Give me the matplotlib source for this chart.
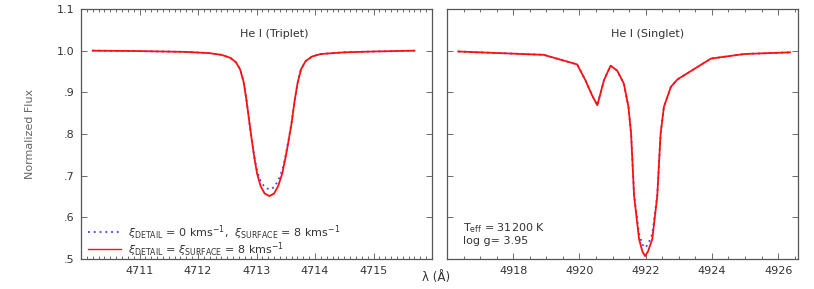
import matplotlib
matplotlib.use("Agg")
import matplotlib.pyplot as plt
from matplotlib.lines import Line2D
from matplotlib.ticker import MultipleLocator

# ---- data ----
trip_wl = [4710.2, 4711.0, 4711.8, 4712.2, 4712.4, 4712.55, 4712.65, 4712.72, 4712.78,
           4712.83, 4712.88, 4712.92, 4712.96, 4713.01, 4713.07, 4713.14, 4713.22,
           4713.30, 4713.37, 4713.44, 4713.50, 4713.55, 4713.60, 4713.65, 4713.70,
           4713.76, 4713.84, 4713.95, 4714.1, 4714.5, 4715.0, 4715.7]
trip_red = [1.000, 0.999, 0.997, 0.994, 0.990, 0.983, 0.972, 0.955, 0.925,
            0.880, 0.826, 0.785, 0.746, 0.705, 0.675, 0.657, 0.651,
            0.657, 0.675, 0.705, 0.746, 0.785, 0.826, 0.878, 0.921,
            0.955, 0.975, 0.986, 0.992, 0.996, 0.998, 1.000]
trip_blue = [1.000, 0.999, 0.997, 0.994, 0.990, 0.983, 0.972, 0.955, 0.925,
             0.880, 0.826, 0.786, 0.748, 0.711, 0.687, 0.672, 0.667,
             0.672, 0.688, 0.713, 0.750, 0.788, 0.828, 0.878, 0.921,
             0.955, 0.975, 0.986, 0.992, 0.996, 0.998, 1.000]

sing_wl = [4916.34, 4918.92, 4919.93, 4920.18, 4920.38, 4920.54, 4920.74, 4920.94,
           4921.14, 4921.34, 4921.48, 4921.56, 4921.65, 4921.8, 4921.9, 4921.98,
           4922.07, 4922.2, 4922.35, 4922.45, 4922.55, 4922.76, 4922.96, 4923.97,
           4924.98, 4926.36]
sing_red = [0.998, 0.990, 0.967, 0.929, 0.893, 0.869, 0.929, 0.964,
            0.952, 0.921, 0.865, 0.800, 0.651, 0.548, 0.518, 0.507,
            0.518, 0.548, 0.651, 0.800, 0.865, 0.913, 0.931, 0.981,
            0.992, 0.996]
sing_blue = [0.998, 0.990, 0.967, 0.929, 0.893, 0.869, 0.929, 0.964,
             0.952, 0.921, 0.865, 0.800, 0.655, 0.560, 0.535, 0.527,
             0.535, 0.560, 0.655, 0.800, 0.865, 0.913, 0.931, 0.981,
             0.992, 0.996]

yticks = [0.5, 0.6, 0.7, 0.8, 0.9, 1.0, 1.1]
ytick_labels = ['.5', '.6', '.7', '.8', '.9', '1.0', '1.1']
left_xticks = [4711, 4712, 4713, 4714, 4715]
right_xticks = [4918, 4920, 4922, 4924, 4926]

RED = '#ff1010'
BLUE = '#4040ff'
TXT = '#333333'
SP = '#555555'

plt.rcParams['font.family'] = ['DejaVu Sans']

fig = plt.figure(figsize=(8.14, 2.89), dpi=100)
axL = fig.add_axes([81/814, 30/289, 351/814, 250/289])
axR = fig.add_axes([447/814, 30/289, 351/814, 250/289])

for ax in (axL, axR):
    ax.set_ylim(0.5, 1.1)
    ax.set_yticks(yticks)
    for s in ax.spines.values():
        s.set_color(SP)
        s.set_linewidth(0.9)
    ax.tick_params(which='both', direction='in', top=True, right=True,
                   colors=SP, labelcolor=TXT, labelsize=8, width=0.6)
    ax.tick_params(which='major', length=4, pad=5)
    ax.tick_params(which='minor', length=2)

axL.plot(trip_wl, trip_blue, color=BLUE, ls=(0, (1, 2.2)), lw=1.3)
axL.plot(trip_wl, trip_red, color=RED, lw=1.3)
axL.set_xlim(4710.0, 4716.0)
axL.set_xticks(left_xticks)
axL.xaxis.set_minor_locator(MultipleLocator(0.1))
axL.set_yticklabels(ytick_labels)
axL.text(4713.3, 1.04, 'He I (Triplet)', ha='center', va='center', fontsize=8, color=TXT)

handles = [Line2D([], [], color=BLUE, ls=(0, (1, 2.2)), lw=1.3),
           Line2D([], [], color=RED, lw=1.0)]
labels = [r'$\xi_{\rm DETAIL}$ = 0 kms$^{-1}$,  $\xi_{\rm SURFACE}$ = 8 kms$^{-1}$',
          r'$\xi_{\rm DETAIL}$ = $\xi_{\rm SURFACE}$ = 8 kms$^{-1}$']
axL.legend(handles, labels, loc='lower left', bbox_to_anchor=(0.0, -0.025),
           frameon=False, fontsize=8, handlelength=3.0, handletextpad=0.6,
           labelspacing=-0.15, labelcolor=TXT, borderaxespad=0.2)

axR.plot(sing_wl, sing_blue, color=BLUE, ls=(0, (1, 2.2)), lw=1.3)
axR.plot(sing_wl, sing_red, color=RED, lw=1.3)
axR.set_xlim(4916.0, 4926.6)
axR.set_xticks(right_xticks)
axR.xaxis.set_minor_locator(MultipleLocator(0.5))
axR.tick_params(axis='y', labelleft=False)
axR.text(4922.05, 1.04, 'He I (Singlet)', ha='center', va='center', fontsize=8, color=TXT)
axR.text(0.045, 0.125, r'T$_{\rm eff}$ = 31200 K', transform=axR.transAxes,
         fontsize=8, color=TXT, va='center')
axR.text(0.045, 0.072, 'log g= 3.95', transform=axR.transAxes,
         fontsize=8, color=TXT, va='center')

fig.text(30/814, 1 - 134/289, 'Normalized Flux', rotation=90, ha='center', va='center',
         fontsize=8, color='#666666')
fig.text(436/814, 1 - 278/289, 'λ (Å)', ha='center', va='center', fontsize=8.5, color=TXT)

fig.savefig('out.png', dpi=100)
